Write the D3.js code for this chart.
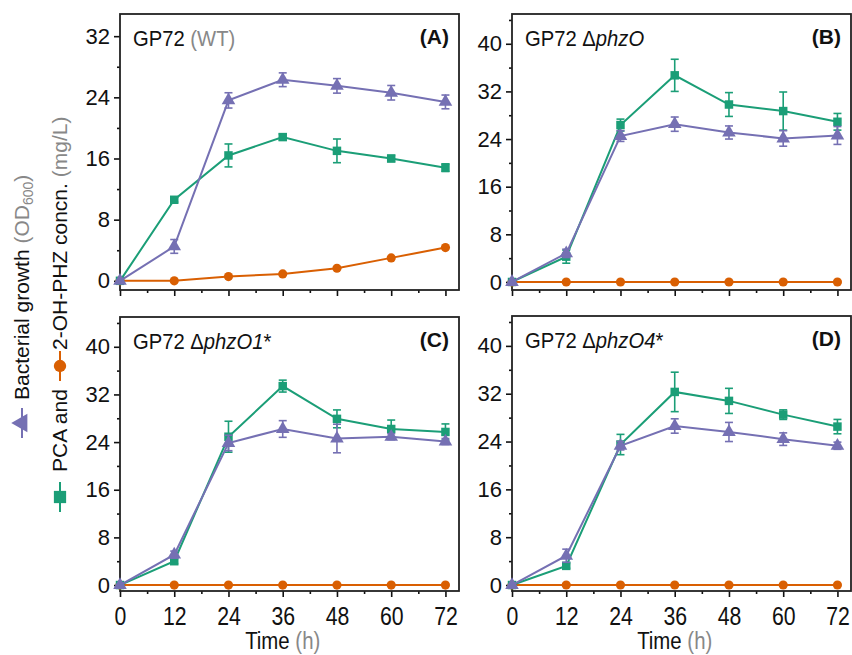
<!DOCTYPE html>
<html>
<head>
<meta charset="utf-8">
<script src="https://cdn.jsdelivr.net/npm/d3@7"></script>
<style>
  body { margin: 0; background: #fff; }
  svg text { font-family: "Liberation Sans", Arial, sans-serif; }
</style>
</head>
<body>
<svg width="852" height="655" class="chart"></svg>
<script>
// sampling times (h)
var times = [0, 12, 24, 36, 48, 60, 72];
var xTicks = [0, 12, 24, 36, 48, 60, 72];
var yTicksA = [0, 8, 16, 24, 32];
var yTicksBCD = [0, 8, 16, 24, 32, 40];

// (A) GP72 WT
var growthA = [0, 4.5, 23.6, 26.3, 25.5, 24.6, 23.4];
var growthAErr = [0, 0.9, 1.0, 0.9, 0.95, 0.95, 0.9];
var pcaA = [0, 10.6, 16.4, 18.8, 17.0, 16.0, 14.8];
var pcaAErr = [0, 0.3, 1.5, 0.4, 1.55, 0.4, 0.5];
var ohA = [0, 0, 0.56, 0.9, 1.65, 3.0, 4.35];

// (B) dphzO
var growthB = [0, 4.8, 24.5, 26.5, 25.1, 24.1, 24.6];
var growthBErr = [0, 0.7, 0.9, 1.2, 1.1, 1.3, 1.5];
var pcaB = [0, 4.25, 26.35, 34.7, 29.8, 28.7, 26.9];
var pcaBErr = [0, 1.1, 1.0, 2.7, 2.0, 3.2, 1.4];
var ohB = [0, 0, 0, 0, 0, 0, 0];

// (C) dphzO1*
var growthC = [0, 5.1, 23.85, 26.2, 24.6, 24.9, 24.1];
var growthCErr = [0, 0.6, 1.3, 1.4, 2.4, 0.5, 0.5];
var pcaC = [0, 4.0, 24.9, 33.4, 27.9, 26.2, 25.7];
var pcaCErr = [0, 0.4, 2.6, 1.0, 1.5, 1.5, 1.35];
var ohC = [0, 0, 0, 0, 0, 0, 0];

// (D) dphzO4*
var growthD = [0, 4.9, 23.3, 26.6, 25.6, 24.4, 23.3];
var growthDErr = [0, 1.1, 0.7, 1.2, 1.6, 1.05, 0.6];
var pcaD = [0, 3.2, 23.5, 32.3, 30.8, 28.5, 26.5];
var pcaDErr = [0, 0.4, 1.7, 3.3, 2.1, 0.8, 1.2];
var ohD = [0, 0, 0, 0, 0, 0, 0];

var purple = "#7570b3", green = "#1b9e77", orange = "#d95f02";

var panels = [
  {id: "A", left: 120, top: 14, bottom: 290, yDomain: [-1.2, 34.9], yTicks: yTicksA, xLabels: false,
   title: [["GP72 ", "#111", "normal"], ["(WT)", "#888", "normal"]],
   growth: growthA, growthErr: growthAErr, pca: pcaA, pcaErr: pcaAErr, oh: ohA},
  {id: "B", left: 512, top: 14, bottom: 290, yDomain: [-1.35, 45], yTicks: yTicksBCD, xLabels: false,
   title: [["GP72 \u0394", "#111", "normal"], ["phzO", "#111", "italic"]],
   growth: growthB, growthErr: growthBErr, pca: pcaB, pcaErr: pcaBErr, oh: ohB},
  {id: "C", left: 120, top: 317, bottom: 591, yDomain: [-1.0, 45], yTicks: yTicksBCD, xLabels: true,
   title: [["GP72 \u0394", "#111", "normal"], ["phzO1", "#111", "italic"], ["*", "#111", "normal"]],
   growth: growthC, growthErr: growthCErr, pca: pcaC, pcaErr: pcaCErr, oh: ohC},
  {id: "D", left: 512, top: 316, bottom: 591, yDomain: [-1.0, 45], yTicks: yTicksBCD, xLabels: true,
   title: [["GP72 \u0394", "#111", "normal"], ["phzO4", "#111", "italic"], ["*", "#111", "normal"]],
   growth: growthD, growthErr: growthDErr, pca: pcaD, pcaErr: pcaDErr, oh: ohD}
];

var svg = d3.select(".chart");
var width = 339;

panels.forEach(function(p) {
  var height = p.bottom - p.top;
  var x = d3.scaleLinear().domain([0, 75]).range([0, width]);
  var y = d3.scaleLinear().domain(p.yDomain).range([height, 0]);
  var g = svg.append("g").attr("transform", "translate(" + p.left + "," + p.top + ")");

  // y axis, major + minor ticks
  var yMinor = d3.range(4, p.yDomain[1], 8);
  g.append("g").attr("class", "y minor")
    .call(d3.axisLeft(y).tickValues(yMinor).tickSize(3).tickFormat(""));
  g.append("g").attr("class", "y axis")
    .call(d3.axisLeft(y).tickValues(p.yTicks).tickSize(6).tickPadding(4));

  // x axis
  var xMinor = d3.range(6, 75, 12);
  g.append("g").attr("transform", "translate(0," + height + ")")
    .call(d3.axisBottom(x).tickValues(xMinor).tickSize(3).tickFormat(""));
  var xa = g.append("g").attr("class", "x axis").attr("transform", "translate(0," + height + ")")
    .call(d3.axisBottom(x).tickValues(xTicks).tickSize(6).tickPadding(10)
      .tickFormat(p.xLabels ? d3.format("d") : ""));

  g.selectAll(".domain").remove();
  g.selectAll(".tick line").attr("stroke", "#111").attr("stroke-width", 1.6);
  g.selectAll(".y.axis .tick text").attr("font-size", 22).attr("fill", "#111");
  // condensed look for the time labels
  xa.selectAll(".tick text").attr("font-size", 25).attr("fill", "#111")
    .attr("transform", "scale(0.85,1)");

  // frame
  g.append("rect").attr("x", 0).attr("y", 0).attr("width", width).attr("height", height)
    .attr("fill", "none").attr("stroke", "#222").attr("stroke-width", 1.8);

  var series = [
    {vals: p.oh, err: null, color: orange, sym: d3.symbolCircle, size: 66},
    {vals: p.pca, err: p.pcaErr, color: green, sym: d3.symbolSquare, size: 72},
    {vals: p.growth, err: p.growthErr, color: purple, sym: d3.symbolTriangle, size: 80}
  ];

  var line = d3.line()
    .x(function(d) { return x(d.t); })
    .y(function(d) { return y(d.v); });

  series.forEach(function(s) {
    var pts = times.map(function(t, i) { return {t: t, v: s.vals[i], e: s.err ? s.err[i] : 0}; });
    g.append("path").datum(pts).attr("d", line)
      .attr("fill", "none").attr("stroke", s.color).attr("stroke-width", 2);

    var eb = g.selectAll(null).data(pts.filter(function(d) { return d.e > 0; })).enter()
      .append("g").attr("stroke", s.color).attr("stroke-width", 1.6);
    eb.append("line")
      .attr("x1", function(d) { return x(d.t); }).attr("x2", function(d) { return x(d.t); })
      .attr("y1", function(d) { return y(d.v - d.e); }).attr("y2", function(d) { return y(d.v + d.e); });
    eb.append("line")
      .attr("x1", function(d) { return x(d.t) - 4; }).attr("x2", function(d) { return x(d.t) + 4; })
      .attr("y1", function(d) { return y(d.v + d.e); }).attr("y2", function(d) { return y(d.v + d.e); });
    eb.append("line")
      .attr("x1", function(d) { return x(d.t) - 4; }).attr("x2", function(d) { return x(d.t) + 4; })
      .attr("y1", function(d) { return y(d.v - d.e); }).attr("y2", function(d) { return y(d.v - d.e); });

    g.selectAll(null).data(pts).enter().append("path")
      .attr("d", d3.symbol().type(s.sym).size(s.size))
      .attr("transform", function(d) { return "translate(" + x(d.t) + "," + y(d.v) + ")"; })
      .attr("fill", s.color);
  });

  // panel title
  var t = g.append("g").attr("transform", "translate(13,32)")
    .append("text").attr("transform", "scale(0.92,1)").attr("font-size", 22).attr("fill", "#111");
  p.title.forEach(function(part) {
    t.append("tspan").text(part[0]).attr("fill", part[1]).attr("font-style", part[2]);
  });
  g.append("text").attr("x", width - 10).attr("y", 30).attr("text-anchor", "end")
    .attr("font-size", 21).attr("font-weight", "bold").attr("fill", "#111").text("(" + p.id + ")");

  if (p.xLabels) {
    var xt = g.append("g").attr("transform", "translate(" + x(36) + "," + (height + 58) + ")")
      .append("text").attr("transform", "scale(0.85,1)")
      .attr("text-anchor", "middle").attr("font-size", 24).attr("fill", "#111");
    xt.append("tspan").text("Time ");
    xt.append("tspan").attr("fill", "#888").text("(h)");
  }
});

// rotated y-axis label with legend symbols
function legendSymbol(g, u, type, color, size) {
  g.append("line").attr("x1", u - 15).attr("x2", u + 15).attr("y1", 0).attr("y2", 0)
    .attr("stroke", color).attr("stroke-width", 2);
  g.append("path").attr("d", d3.symbol().type(type).size(size))
    .attr("transform", "translate(" + u + ",0)").attr("fill", color);
}

var l1 = svg.append("g").attr("transform", "translate(22,0) rotate(-90)");
legendSymbol(l1, -423, d3.symbolTriangle, purple, 150);
var t1 = l1.append("text").attr("x", -400).attr("y", 7).attr("font-size", 21).attr("fill", "#111");
t1.append("tspan").text("Bacterial growth ");
t1.append("tspan").attr("fill", "#888").text("(OD");
t1.append("tspan").attr("fill", "#888").attr("font-size", 14).attr("dy", 4).text("600");
t1.append("tspan").attr("fill", "#888").attr("dy", -4).text(")");

var l2 = svg.append("g").attr("transform", "translate(60,0) rotate(-90)");
legendSymbol(l2, -497, d3.symbolSquare, green, 150);
legendSymbol(l2, -366, d3.symbolCircle, orange, 120);
var t2 = l2.append("text").attr("x", -472).attr("y", 7).attr("font-size", 21).attr("fill", "#111");
t2.append("tspan").text("PCA and");
var t3 = l2.append("text").attr("x", -350).attr("y", 7).attr("font-size", 21).attr("fill", "#111");
t3.append("tspan").text("2-OH-PHZ concn. ");
t3.append("tspan").attr("fill", "#888").text("(mg/L)");
</script>
</body>
</html>
